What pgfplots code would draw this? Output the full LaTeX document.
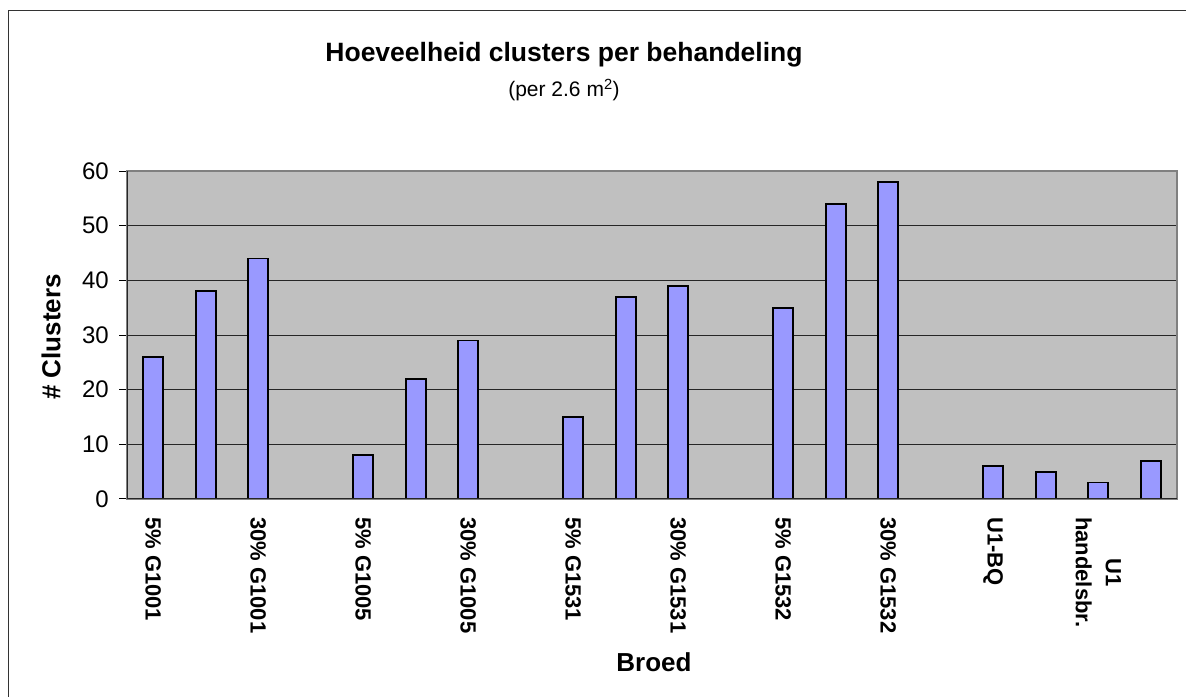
\documentclass[border=0pt]{standalone}
\usepackage{fontspec}
\setmainfont{Liberation Sans}
\usepackage{pgfplots}
\pgfplotsset{compat=1.18}
\definecolor{plotbg}{HTML}{C0C0C0}
\definecolor{barfill}{HTML}{9999FF}
\begin{document}
\begin{tikzpicture}
\path[use as bounding box] (0bp,0bp) rectangle (1186bp,697bp);
\draw[line width=1.5bp, color=black!80] (8.5bp,-20bp) -- (8.5bp,686.5bp) -- (1220bp,686.5bp);
\begin{axis}[
  at={(127bp,198bp)}, anchor=south west,
  scale only axis, width=1050bp, height=328bp,
  xmin=0, xmax=20, ymin=0, ymax=60,
  ybar, bar width=20bp,
  axis background/.style={fill=plotbg},
  axis line style={draw=gray, line width=1.2bp},
  tick align=outside,
  xtick pos=bottom, ytick pos=left,
  xtick={0.5,2.5,4.5,6.5,8.5,10.5,12.5,14.5,16.5,18.5},
  xticklabels={5\% G1001,30\% G1001,5\% G1005,30\% G1005,5\% G1531,30\% G1531,5\% G1532,30\% G1532,U1-BQ,{\rlap{\raisebox{30bp}{\hspace{41.5bp}U1}}handelsbr.}},
  xtick style={draw=none},
  minor xtick={0,1,...,20},
  minor tick length=8bp,
  minor tick style={gray, line width=1.2bp},
  ytick={0,10,...,60},
  major tick length=8bp,
  ytick style={black, line width=1bp},
  ymajorgrids,
  major grid style={black!85, line width=1bp},
  /pgf/number format/assume math mode=true,
  xticklabel style={rotate=-90, anchor=west, inner sep=0pt, font=\bfseries\fontsize{22bp}{26bp}\selectfont},
  xticklabel shift=10bp,
  yticklabel style={font=\fontsize{24bp}{27bp}\selectfont, inner sep=0pt},
  yticklabel shift=10bp,
]
\addplot[fill=barfill, draw=black, line width=1.8bp] coordinates {
(0.5,26) (1.5,38) (2.5,44)
(4.5,8) (5.5,22) (6.5,29)
(8.5,15) (9.5,37) (10.5,39)
(12.5,35) (13.5,54) (14.5,58)
(16.5,6) (17.5,5) (18.5,3) (19.5,7)
};
\draw[black!85, line width=1.5bp] (axis cs:0,60) -- (axis cs:0,0) -- (axis cs:20,0);
\end{axis}
\node[anchor=base, font=\bfseries\fontsize{26.5bp}{30bp}\selectfont] at (564bp,635bp) {Hoeveelheid clusters per behandeling};
\node[anchor=base, font=\fontsize{21bp}{24bp}\selectfont] at (564bp,600bp) {(per 2.6 m\textsuperscript{2})};
\node[rotate=90, font=\bfseries\fontsize{26bp}{30bp}\selectfont] at (51bp,360bp) {\# Clusters};
\node[anchor=base, font=\bfseries\fontsize{26bp}{30bp}\selectfont] at (654bp,26bp) {Broed};
\end{tikzpicture}
\end{document}
